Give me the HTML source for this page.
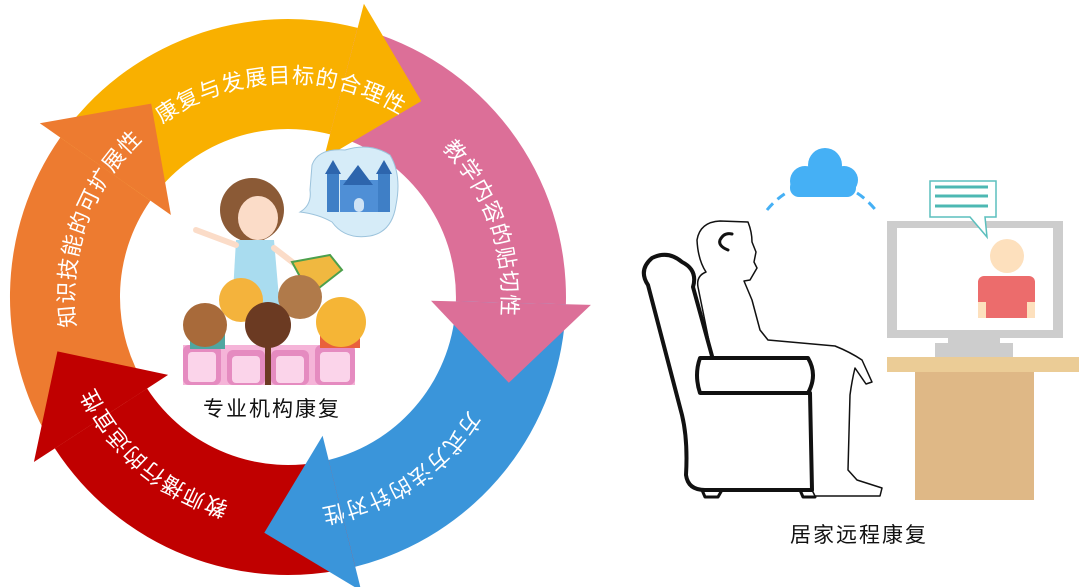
<!DOCTYPE html>
<html><head><meta charset="utf-8">
<style>
html,body{margin:0;padding:0;background:#fff;}
svg{display:block;}
.t{font-family:"Liberation Sans","Noto Sans CJK SC",sans-serif;font-size:22px;fill:#fff;letter-spacing:1px;}
.lbl{font-family:"Liberation Sans","Noto Sans CJK SC",sans-serif;font-size:21px;fill:#111;letter-spacing:2px;}
</style></head>
<body>
<svg id="s" width="1080" height="587" viewBox="0 0 1080 587" xmlns="http://www.w3.org/2000/svg">
<g id="bands"></g>
<g id="heads"></g>
<defs>
<path id="p1" d=""/><path id="p2" d=""/><path id="p3" d=""/><path id="p4" d=""/><path id="p5" d=""/>
</defs>
<text class="t"><textPath href="#p1">康复与发展目标的合理性</textPath></text>
<text class="t"><textPath href="#p2">教学内容的贴切性</textPath></text>
<text class="t"><textPath href="#p3">方式方法的针对性</textPath></text>
<text class="t"><textPath href="#p4">教师播行的适宜性</textPath></text>
<text class="t"><textPath href="#p5">知识技能的可扩展性</textPath></text>

<!-- center illustration -->
<g>
  <path d="M312 165 Q318 148 345 150 Q370 142 390 155 Q402 175 396 205 Q392 232 370 236 Q345 240 332 222 Q318 214 300 212 Q312 205 310 190 Z" fill="#d6ecf8" stroke="#9cc3dc" stroke-width="1"/>
  <rect x="340" y="180" width="38" height="32" fill="#4f8fd6"/>
  <rect x="327" y="172" width="12" height="40" fill="#3f7fc6"/>
  <rect x="378" y="172" width="12" height="40" fill="#3f7fc6"/>
  <polygon points="325,174 333,160 341,174" fill="#2d65ad"/>
  <polygon points="376,174 384,160 392,174" fill="#2d65ad"/>
  <polygon points="343,185 358,165 373,185" fill="#2d65ad"/>
  <rect x="354" y="198" width="10" height="14" rx="5" fill="#cfe3f5"/>
  <circle cx="252" cy="210" r="32" fill="#8b5a36"/>
  <ellipse cx="258" cy="218" rx="20" ry="22" fill="#fbdcc8"/>
  <path d="M236 240 L274 240 L280 310 L232 310 Z" fill="#a9dcef"/>
  <path d="M236 245 L196 230" stroke="#fbdcc8" stroke-width="6" stroke-linecap="round"/>
  <path d="M274 248 L300 268" stroke="#fbdcc8" stroke-width="6" stroke-linecap="round"/>
  <polygon points="292,262 330,255 342,270 310,295" fill="#f0b840" stroke="#4ca04c" stroke-width="2"/>
  <rect x="183" y="345" width="172" height="40" fill="#f5b4d8"/>
  <g fill="#e58bc0">
   <rect x="183" y="345" width="38" height="40" rx="6"/><rect x="227" y="350" width="38" height="35" rx="6"/>
   <rect x="271" y="350" width="38" height="35" rx="6"/><rect x="315" y="345" width="40" height="40" rx="6"/>
  </g>
  <g fill="#fbd4ea">
   <rect x="188" y="352" width="28" height="30" rx="4"/><rect x="232" y="356" width="28" height="27" rx="4"/>
   <rect x="276" y="356" width="28" height="27" rx="4"/><rect x="320" y="352" width="30" height="30" rx="4"/>
  </g>
  <rect x="190" y="333" width="35" height="16" fill="#4fa6a0"/>
  <rect x="320" y="330" width="40" height="18" fill="#e9603c"/>
  <circle cx="300" cy="297" r="22" fill="#b07a4a"/>
  <circle cx="241" cy="300" r="22" fill="#f4b33c"/>
  <circle cx="205" cy="325" r="22" fill="#a86a3a"/>
  <circle cx="341" cy="322" r="25" fill="#f5b536"/>
  <circle cx="268" cy="325" r="23" fill="#6b3a22"/>
  <path d="M268 340 L268 385" stroke="#6b3a22" stroke-width="6"/>
</g>
<text class="lbl" x="203" y="416">专业机构康复</text>

<g fill="#45b0f5">
  <circle cx="805" cy="181" r="15"/><circle cx="825" cy="165" r="17"/><circle cx="844" cy="180" r="14"/>
  <rect x="790" y="178" width="66" height="19" rx="9"/>
</g>
<path d="M767 210 Q775 200 786 193" stroke="#45b0f5" stroke-width="3" fill="none" stroke-dasharray="9 6"/>
<path d="M857 193 Q868 200 878 213" stroke="#45b0f5" stroke-width="3" fill="none" stroke-dasharray="9 6"/>

<g fill="none" stroke="#111" stroke-linejoin="round" stroke-linecap="round">
  <path d="M712 356 L693 287 Q698 270 682 262 Q668 250 652 258 Q638 270 648 285 L682 415 Q688 440 686 475 Q688 490 705 490 L812 490 L810 393" stroke-width="4"/>
  <path d="M700 358 L808 358 Q818 375 808 393 L700 393 Q694 375 700 358 Z" stroke-width="4"/>
  <path d="M702 490 L705 497 L718 497 L722 490 M800 490 L803 497 L815 497" stroke-width="3"/>
  <path d="M712 356 L698 287 Q696 276 706 272 Q698 260 697 240 Q700 222 720 221 L748 222 Q752 232 752 242 L756 252 L754 262 L757 268 L750 280 L744 281 L752 300 L760 330 L768 340 L835 346 Q850 352 862 360 L872 382 L866 384 L855 368 Q852 380 850 395 L848 470 L857 480 L882 488 L880 496 L815 496 L812 490" stroke-width="1.5"/>
  <path d="M728 250 Q718 246 720 240 Q724 232 732 234" stroke-width="3"/>
</g>

<rect x="887" y="221" width="176" height="117" fill="#cdcdcd"/>
<rect x="897" y="228" width="156" height="102" fill="#fff"/>
<rect x="948" y="338" width="52" height="6" fill="#cdcdcd"/>
<rect x="935" y="343" width="78" height="14" fill="#cdcdcd"/>
<rect x="887" y="357" width="192" height="15" fill="#ebcc96"/>
<rect x="915" y="372" width="119" height="128" fill="#dfb886"/>
<circle cx="1007" cy="256" r="17" fill="#fde0bd"/>
<rect x="978" y="276" width="57" height="42" rx="6" fill="#ec6c6c"/>
<rect x="978" y="302" width="8" height="16" fill="#fde0bd"/>
<rect x="1027" y="302" width="8" height="16" fill="#fde0bd"/>
<path d="M930 181 L996 181 L996 217 L985 217 L987 237 L970 217 L930 217 Z" fill="#fff" stroke="#5bbfbd" stroke-width="1.5"/>
<g stroke="#4db8b3" stroke-width="3"><path d="M935 187 H988 M935 196 H988 M935 206 H988"/></g>
<text class="lbl" x="790" y="542">居家远程康复</text>
</svg>
<script>
(function(){
var cx=288,cy=297,Ri=168,Ro=278,Rm=223,H=80,L=80;
var d2r=Math.PI/180;
function pt(r,a){return [cx+r*Math.cos(a*d2r),cy+r*Math.sin(a*d2r)];}
function f(p){return p[0].toFixed(1)+' '+p[1].toFixed(1);}
var items=[
 {c:'#ed7b30',a0:147,a1:215},
 {c:'#f9b000',a0:215,a1:284.5},
 {c:'#dc6f98',a0:284.5,a1:361.5},
 {c:'#3a95da',a0:1.5,a1:76},
 {c:'#c00000',a0:76,a1:147}
];
var ns='http://www.w3.org/2000/svg';
var bands=document.getElementById('bands'),heads=document.getElementById('heads');
items.forEach(function(it){
 var a0=it.a0,a1=it.a1;
 var d='M'+f(pt(Ro,a0))+' A'+Ro+' '+Ro+' 0 0 1 '+f(pt(Ro,a1))+' L'+f(pt(Ri,a1))+' A'+Ri+' '+Ri+' 0 0 0 '+f(pt(Ri,a0))+' Z';
 var p=document.createElementNS(ns,'path');p.setAttribute('d',d);p.setAttribute('fill',it.c);bands.appendChild(p);
 var m=pt(Rm,a1),t=[-Math.sin(a1*d2r),Math.cos(a1*d2r)],n=[Math.cos(a1*d2r),Math.sin(a1*d2r)];
 var o=[m[0]+n[0]*H,m[1]+n[1]*H],i=[m[0]-n[0]*H,m[1]-n[1]*H],tip=[m[0]+t[0]*L,m[1]+t[1]*L];
 var h=document.createElementNS(ns,'path');h.setAttribute('d','M'+f(o)+' L'+f(tip)+' L'+f(i)+' Z');h.setAttribute('fill',it.c);heads.appendChild(h);
});
var R=214;
var tp=[['p1',-126,-30],['p2',-44,40],['p3',32,115],['p4',106,190],['p5',172,260]];
tp.forEach(function(x){
 var d='M'+f(pt(R,x[1]))+' A'+R+' '+R+' 0 0 1 '+f(pt(R,x[2]));
 document.getElementById(x[0]).setAttribute('d',d);
});
})();
</script>
</body></html>
